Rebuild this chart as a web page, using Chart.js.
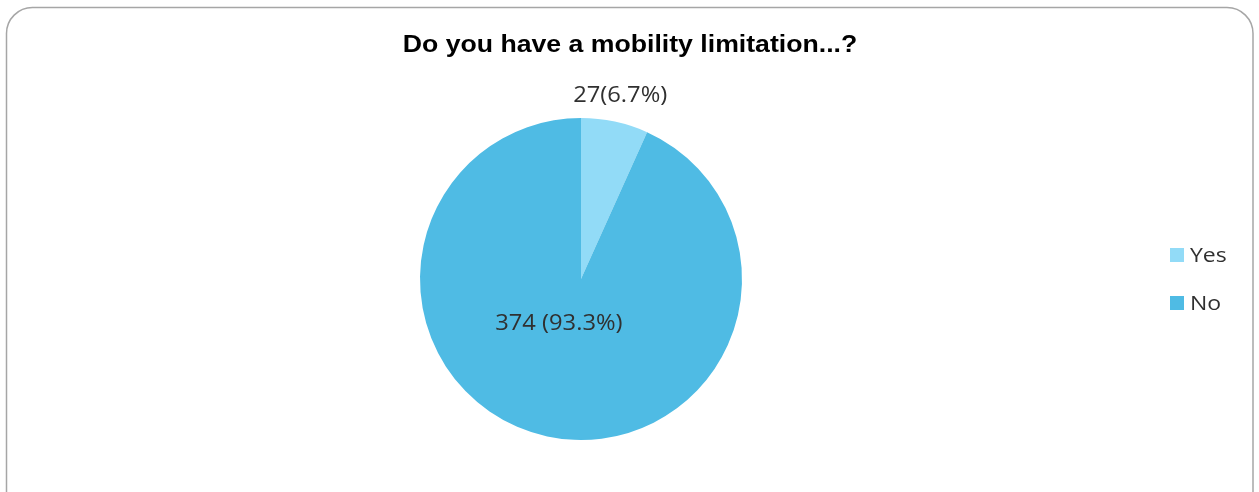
<!DOCTYPE html>
<html>
<head>
<meta charset="utf-8">
<script src="https://cdn.jsdelivr.net/npm/chart.js@4.4.1/dist/chart.umd.min.js"></script>
<style>
html,body{margin:0;padding:0;background:#fff;}
#wrap{width:1259px;height:492px;position:relative;}
</style>
</head>
<body>
<div id="wrap"><canvas id="c" width="1259" height="492"></canvas></div>
<script>
const titleText = "Do you have a mobility limitation...?";
const categories = ["Yes", "No"];
const counts = [27, 374];
const percentLabels = ["27(6.7%)", "374 (93.3%)"];
const colors = ["#92DBF7", "#4FBBE4"];

function stretchedText(ctx, text, x, y, sx, align) {
  ctx.save();
  ctx.translate(x, y);
  ctx.scale(sx, 1);
  ctx.textAlign = align;
  ctx.fillText(text, 0, 0);
  ctx.restore();
}

const framePlugin = {
  id: 'frame',
  beforeDraw(chart) {
    const ctx = chart.ctx;
    ctx.save();
    ctx.fillStyle = '#ffffff';
    ctx.fillRect(0, 0, chart.width, chart.height);
    const x = 6.5, y = 7.5, w = 1253 - 6.5, h = 520, r = 26;
    ctx.beginPath();
    ctx.moveTo(x + r, y);
    ctx.lineTo(x + w - r, y);
    ctx.arcTo(x + w, y, x + w, y + r, r);
    ctx.lineTo(x + w, y + h - r);
    ctx.arcTo(x + w, y + h, x + w - r, y + h, r);
    ctx.lineTo(x + r, y + h);
    ctx.arcTo(x, y + h, x, y + h - r, r);
    ctx.lineTo(x, y + r);
    ctx.arcTo(x, y, x + r, y, r);
    ctx.closePath();
    ctx.strokeStyle = '#A6A6A6';
    ctx.lineWidth = 1.5;
    ctx.stroke();
    ctx.restore();
  },
  afterDraw(chart) {
    const ctx = chart.ctx;
    ctx.save();
    ctx.textBaseline = 'middle';
    // title
    ctx.fillStyle = '#000000';
    ctx.font = 'bold 24px "Liberation Sans", Arial, sans-serif';
    stretchedText(ctx, titleText, 630, 45, 1.11, 'center');

    // data labels
    const meta = chart.getDatasetMeta(0);
    ctx.font = '21px "Open Sans", sans-serif';
    ctx.fillStyle = '#303030';
    meta.data.forEach((arc, i) => {
      const mid = (arc.startAngle + arc.endAngle) / 2;
      let rr, dx = 0, dy = 0;
      if (i === 0) { rr = arc.outerRadius * 1.16; }
      else { rr = arc.outerRadius * 0.30; dx = -12; dy = -2; }
      const lx = arc.x + Math.cos(mid) * rr + dx;
      const ly = arc.y + Math.sin(mid) * rr + dy;
      stretchedText(ctx, percentLabels[i], lx, ly, 1.13, 'center');
    });

    // legend
    ctx.font = '20px "Open Sans", sans-serif';
    categories.forEach((c, i) => {
      const yy = 255 + i * 48;
      ctx.fillStyle = colors[i];
      ctx.fillRect(1170, yy - 7, 14, 14);
      ctx.fillStyle = '#303030';
      stretchedText(ctx, c, 1190, yy + 1, 1.15, 'left');
    });
    ctx.restore();
  }
};

new Chart(document.getElementById('c'), {
  type: 'pie',
  data: {
    labels: categories,
    datasets: [{
      data: counts,
      backgroundColor: colors,
      borderWidth: 0
    }]
  },
  options: {
    responsive: false,
    animation: false,
    layout: { padding: { left: 420, right: 517, top: 118, bottom: 52 } },
    plugins: {
      legend: { display: false },
      title: { display: false },
      tooltip: { enabled: false }
    }
  },
  plugins: [framePlugin]
});
</script>
</body>
</html>
